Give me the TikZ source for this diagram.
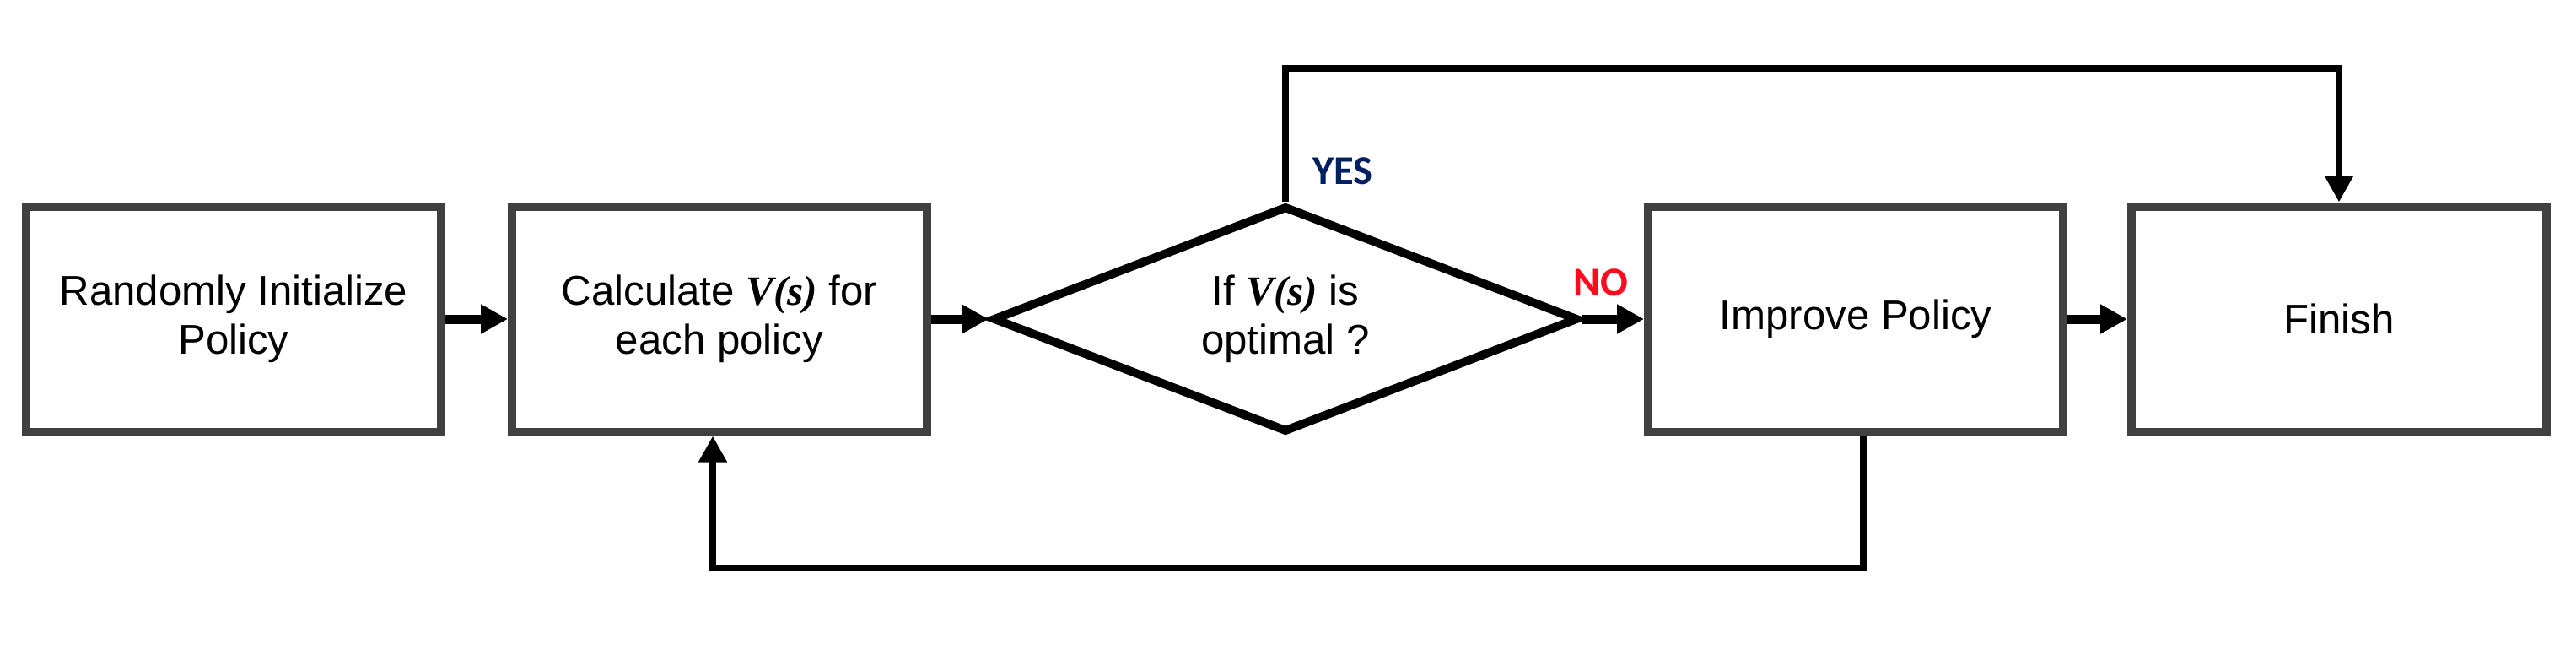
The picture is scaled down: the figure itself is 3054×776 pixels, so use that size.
\documentclass[tikz,border=0pt]{standalone}
\usepackage{fontspec}
\setmainfont{Liberation Sans}
\newfontfamily\tnrfont{Liberation Serif}
\newfontfamily\calibrifont{Carlito}
\usetikzlibrary{arrows.meta,shapes.geometric}
\definecolor{boxgray}{HTML}{404040}
\definecolor{yesblue}{HTML}{002060}
\definecolor{nored}{HTML}{FF0A1E}
\newcommand{\Vsym}{{\tnrfont\bfseries\itshape V(s)}}
\begin{document}
\begin{tikzpicture}[x=0.1mm,y=-0.1mm,
  stepbox/.style={draw=boxgray, line width=1mm, minimum width=49.2mm, minimum height=26.7mm,
    inner sep=0pt, align=center, font=\fontsize{14pt}{16.6pt}\selectfont},
  decision/.style={diamond, draw=black, line width=1mm, minimum width=69.4mm, minimum height=26.8mm,
    shape aspect=2.5, inner sep=0pt, align=center, font=\fontsize{14pt}{16.6pt}\selectfont},
  flow/.style={line width=1.1mm, -{Triangle[length=3.2mm,width=3.3mm]}},
  looparrow/.style={line width=0.85mm, -{Triangle[length=3.1mm,width=3.2mm]}},
  branchtext/.style={font=\calibrifont\bfseries\fontsize{13.8pt}{16pt}\selectfont, anchor=base, inner sep=0pt}
]
\useasboundingbox (0,0) rectangle (3054,776);

\node[stepbox] (init) at (277,378) {Randomly Initialize\\Policy};
\node[stepbox] (calc) at (853,378) {Calculate \Vsym{} for\\each policy};
\node[decision] (dec) at (1524,378) {If \Vsym{} is\\optimal ?};
\node[stepbox] (imp) at (2200,378) {Improve Policy};
\node[stepbox] (fin) at (2773,378) {Finish};

\node[branchtext, text=yesblue] (yes) at (1592,219) {YES};
\node[branchtext, text=nored] (no) at (1898,351) {NO};

\draw[flow] (init.east) -- (calc.west);
\draw[flow] (calc.east) -- (dec.west);
\draw[flow] (dec.east) -- (imp.west);
\draw[flow] (imp.east) -- (fin.west);

\coordinate (ytop) at (1524,81);
\coordinate (ytr) at (2773,81);
\draw[looparrow] (dec.north) -- (ytop) -- (ytr) -- (fin.north);

\coordinate (bl) at (845,673);
\coordinate (br) at (2209,673);
\draw[looparrow] (imp.south -| br) -- (br) -- (bl) -- (calc.south -| bl);
\end{tikzpicture}
\end{document}
